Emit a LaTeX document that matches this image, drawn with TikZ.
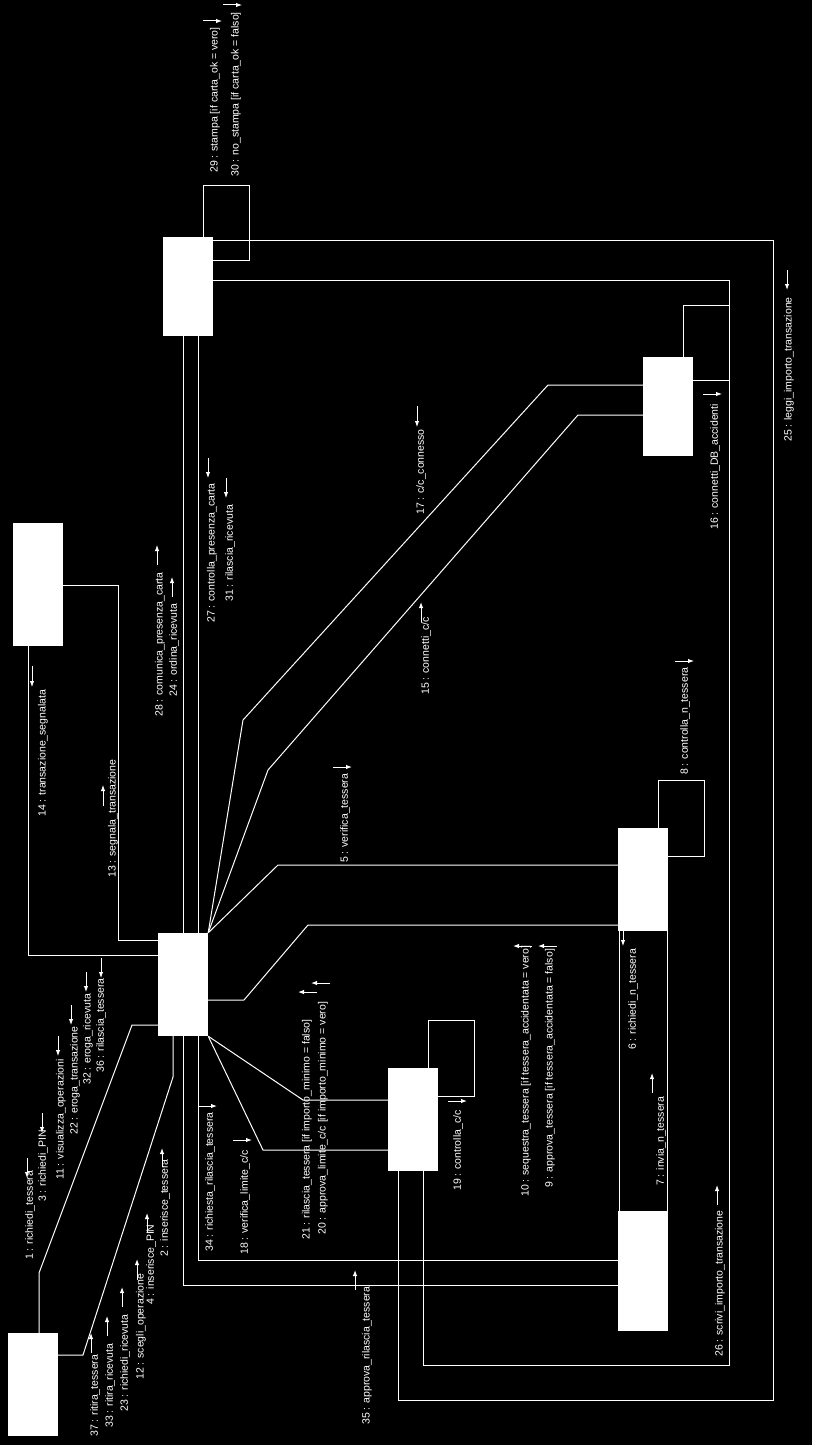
\documentclass[tikz,border=0pt]{standalone}
\usepackage{fontspec}
\setmainfont{Liberation Sans}
\usetikzlibrary{arrows.meta}
\newcommand\lblfont{\fontsize{10.5}{12}\selectfont}
\tikzset{
  obj/.style={fill=white, draw=none, rectangle, inner sep=0pt, minimum width=50pt},
  lnk/.style={draw=white, line width=1pt},
  lbl/.style={text=white, rotate=90, anchor=west, inner sep=0pt, font=\lblfont},
  msg/.style={draw=white, line width=1pt, -{Latex[length=6pt,width=4.5pt]}}
}
\begin{document}
\begin{tikzpicture}[x=1pt,y=-1pt]
\useasboundingbox (0,0) rectangle (812,1445);
\fill[black] (0,0) rectangle (812,1445);

% objects
\node[obj, minimum height=103pt] (A) at (33,1384.5) {};
\node[obj, minimum height=123pt] (B) at (38,584.5) {};
\node[obj, minimum height=103pt] (C) at (183,984.5) {};
\node[obj, minimum height=99pt]  (D) at (188,286.5) {};
\node[obj, minimum height=99pt]  (E) at (668,406.5) {};
\node[obj, minimum height=103pt] (F) at (643,879.5) {};
\node[obj, minimum height=120pt] (G) at (643,1271) {};
\node[obj, minimum height=103pt] (H) at (413,1119.5) {};

% links
\draw[lnk] (A.north -| 39,0) -- (39,1273) -- (132,1025) -- (C.west |- 0,1025);
\draw[lnk] (A.east |- 0,1355) -- (83,1355) -- (173,1077) -- (C.south -| 173,0);
\draw[lnk] (B.east |- 0,585) -- (118,585) -- (118,940) -- (C.west |- 0,940);
\draw[lnk] (B.south -| 28,0) -- (28,955) -- (C.west |- 0,955);
\draw[lnk] (D.south -| 183,0) -- (C.north -| 183,0);
\draw[lnk] (D.south -| 198,0) -- (C.north -| 198,0);
\draw[lnk] (D.north -| 203,0) -- (203,185) -- (249,185) -- (249,260) -- (D.east |- 0,260);
\draw[lnk] (D.east |- 0,240) -- (773,240) -- (773,1400) -- (398,1400) -- (H.south -| 398,0);
\draw[lnk] (D.east |- 0,280) -- (729,280) -- (729,1365) -- (423,1365) -- (H.south -| 423,0);
\draw[lnk] (E.north -| 683,0) -- (683,305) -- (729,305) -- (729,380) -- (E.east |- 0,380);
\draw[lnk] (C.north east) -- (243,720) -- (548,385) -- (E.west |- 0,385);
\draw[lnk] (C.north east) -- (268,770) -- (578,415) -- (E.west |- 0,415);
\draw[lnk] (C.north east) -- (278,865) -- (F.west |- 0,865);
\draw[lnk] (C.east |- 0,1000) -- (244,1000) -- (308,925) -- (F.west |- 0,925);
\draw[lnk] (F.north -| 658,0) -- (658,780) -- (704,780) -- (704,856) -- (F.east |- 0,856);
\draw[lnk] (F.south -| 619.5,0) -- (G.north -| 619.5,0);
\draw[lnk] (F.south -| 667,0) -- (G.north -| 667,0);
\draw[lnk] (C.south east) -- (303,1100) -- (H.west |- 0,1100);
\draw[lnk] (C.south east) -- (263,1150) -- (H.west |- 0,1150);
\draw[lnk] (H.north -| 428,0) -- (428,1020) -- (474,1020) -- (474,1096) -- (H.east |- 0,1096);
\draw[lnk] (C.south -| 198,0) -- (198,1260) -- (G.west |- 0,1260);
\draw[lnk] (C.south -| 183,0) -- (183,1285) -- (G.west |- 0,1285);

% labels
\node[lbl] (l1)  at (30,1260)  {1 : richiedi\_tessera};
\node[lbl] (l2)  at (165,1257) {2 : inserisce\_tessera};
\node[lbl] (l3)  at (43,1202)  {3 : richiedi\_PIN};
\node[lbl] (l4)  at (151,1305) {4 : inserisce\_PIN};
\node[lbl] (l5)  at (345,863)  {5 : verifica\_tessera};
\node[lbl] (l6)  at (633,1050) {6 : richiedi\_n\_tessera};
\node[lbl] (l7)  at (661,1186) {7 : invia\_n\_tessera};
\node[lbl] (l8)  at (685,775)  {8 : controlla\_n\_tessera};
\node[lbl] (l9)  at (550,1188) {9 : approva\_tessera [if tessera\_accidentata = falso]};
\node[lbl] (l10) at (526,1197) {10 : sequestra\_tessera [if tessera\_accidentata = vero]};
\node[lbl] (l11) at (61,1180)  {11 : visualizza\_operazioni};
\node[lbl] (l12) at (141,1380) {12 : scegli\_operazione};
\node[lbl] (l13) at (113,878)  {13 : segnala\_transazione};
\node[lbl] (l14) at (43,817)   {14 : transazione\_segnalata};
\node[lbl] (l15) at (426,695)  {15 : connetti\_c/c};
\node[lbl] (l16) at (715,530)  {16 : connetti\_DB\_accidenti};
\node[lbl] (l17) at (421,515)  {17 : c/c\_connesso};
\node[lbl] (l18) at (245,1255) {18 : verifica\_limite\_c/c};
\node[lbl] (l19) at (458,1191) {19 : controlla\_c/c};
\node[lbl] (l20) at (323,1235) {20 : approva\_limite\_c/c [if importo\_minimo = vero]};
\node[lbl] (l21) at (307,1240) {21 : rilascia\_tessera [if importo\_minimo = falso]};
\node[lbl] (l22) at (75,1135)  {22 : eroga\_transazione};
\node[lbl] (l23) at (125,1412) {23 : richiedi\_ricevuta};
\node[lbl] (l24) at (174,697)  {24 : ordina\_ricevuta};
\node[lbl] (l25) at (789,442)  {25 : leggi\_importo\_transazione};
\node[lbl] (l26) at (720,1357) {26 : scrivi\_importo\_transazione};
\node[lbl] (l27) at (212,623)  {27 : controlla\_presenza\_carta};
\node[lbl] (l28) at (160,717)  {28 : comunica\_presenza\_carta};
\node[lbl] (l29) at (215,173)  {29 : stampa [if carta\_ok = vero]};
\node[lbl] (l30) at (236,177)  {30 : no\_stampa [if carta\_ok = falso]};
\node[lbl] (l31) at (230,602)  {31 : rilascia\_ricevuta};
\node[lbl] (l32) at (88,1085)  {32 : eroga\_ricevuta};
\node[lbl] (l33) at (110,1428) {33 : ritira\_ricevuta};
\node[lbl] (l34) at (210,1252) {34 : richiesta\_rilascia\_tessera};
\node[lbl] (l35) at (367,1425) {35 : approva\_rilascia\_tessera};
\node[lbl] (l36) at (101,1073) {36 : rilascia\_tessera};
\node[lbl] (l37) at (95,1437)  {37 : ritira\_tessera};

% message arrows
\draw[msg] (27,1158) -- (27,1178);
\draw[msg] (162,1167) -- (162,1148);
\draw[msg] (42,1113) -- (42,1133);
\draw[msg] (147,1233) -- (147,1213);
\draw[msg] (333,767) -- (352,767);
\draw[msg] (623,929) -- (623,946);
\draw[msg] (652,1093) -- (652,1073);
\draw[msg] (675,661) -- (694,661);
\draw[msg] (557,946) -- (538,946);
\draw[msg] (532,946) -- (513,946);
\draw[msg] (58,1036) -- (58,1056);
\draw[msg] (137,1280) -- (137,1259);
\draw[msg] (103,806) -- (103,785);
\draw[msg] (32,666) -- (32,687);
\draw[msg] (421,622) -- (421,602);
\draw[msg] (703,394) -- (722,394);
\draw[msg] (417,406) -- (417,427);
\draw[msg] (233,1140) -- (252,1140);
\draw[msg] (448,1101) -- (467,1101);
\draw[msg] (330,983) -- (311,983);
\draw[msg] (317,992) -- (298,992);
\draw[msg] (71,1005) -- (71,1025);
\draw[msg] (122,1307) -- (122,1287);
\draw[msg] (172,597) -- (172,577);
\draw[msg] (787,270) -- (787,290);
\draw[msg] (717,1205) -- (717,1185);
\draw[msg] (208,458) -- (208,478);
\draw[msg] (157,565) -- (157,545);
\draw[msg] (203,21) -- (222,21);
\draw[msg] (223,5) -- (242,5);
\draw[msg] (226,478) -- (226,498);
\draw[msg] (86,972) -- (86,992);
\draw[msg] (107,1336) -- (107,1316);
\draw[msg] (198,1106) -- (217,1106);
\draw[msg] (355,1290) -- (355,1270);
\draw[msg] (101,958) -- (101,978);
\draw[msg] (91,1353) -- (91,1333);
\end{tikzpicture}
\end{document}
